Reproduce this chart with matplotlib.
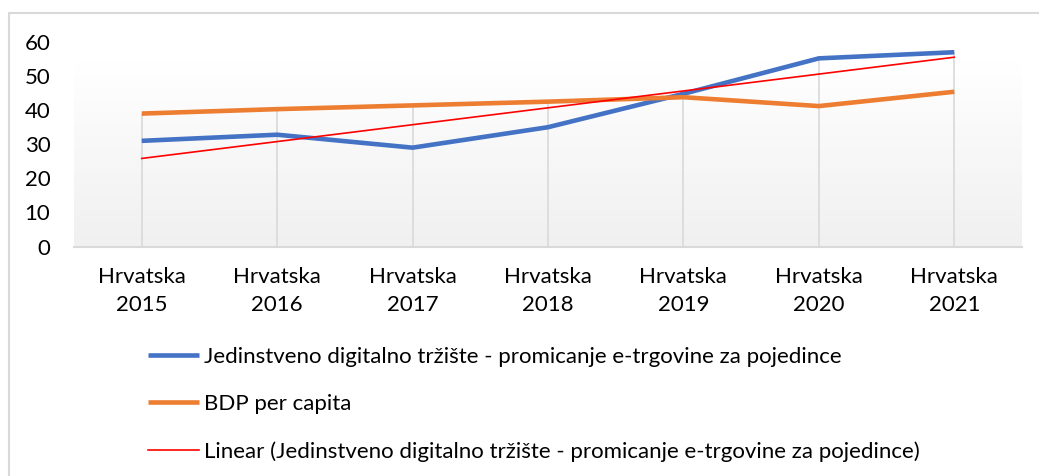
import numpy as np
import matplotlib
matplotlib.use("Agg")
import matplotlib.pyplot as plt
from matplotlib.patches import Rectangle
from matplotlib.colors import LinearSegmentedColormap

plt.rcParams['font.family'] = ['Lato', 'DejaVu Sans']

categories = ["Hrvatska\n2015", "Hrvatska\n2016", "Hrvatska\n2017", "Hrvatska\n2018",
              "Hrvatska\n2019", "Hrvatska\n2020", "Hrvatska\n2021"]
ecommerce = [31, 32.8, 29, 35, 44.8, 55.2, 57]
gdp = [39, 40.3, 41.4, 42.5, 43.8, 41.2, 45.4]
yticks = [0, 10, 20, 30, 40, 50, 60]

label_blue = "Jedinstveno digitalno tržište - promicanje e-trgovine za pojedince"
label_orange = "BDP per capita"
label_trend = "Linear (Jedinstveno digitalno tržište - promicanje e-trgovine za pojedince)"

fs = 16

fig = plt.figure(figsize=(10.39, 4.76), dpi=100)
fig.patch.set_facecolor('white')
fig.add_artist(Rectangle((9/1039, -0.1), 1.2, 1 - 13/476 + 0.1, transform=fig.transFigure,
                         fill=False, edgecolor='#d9d9d9', linewidth=1.5))

ax = fig.add_axes([74/1039, 1 - 246.5/476, (1022 - 74)/1039, (246.5 - 42)/476])
x = np.arange(len(categories))

cmap = LinearSegmentedColormap.from_list('g', ['#f0f0f0', '#ffffff'])
grad = np.linspace(0, 1, 256).reshape(-1, 1)
ax.imshow(grad, cmap=cmap, origin='lower', aspect='auto', extent=[0, 1, 0, 0.9],
          transform=ax.transAxes, zorder=0)

ax.vlines(x, 0, np.maximum(ecommerce, gdp), color='#d9d9d9', linewidth=1.2, zorder=1)

ax.plot(x, ecommerce, color='#4472C4', linewidth=3.3, label=label_blue, zorder=3,
        solid_capstyle='butt')
ax.plot(x, gdp, color='#ED7D31', linewidth=3.3, label=label_orange, zorder=3,
        solid_capstyle='butt')
coef = np.polyfit(x, ecommerce, 1)
ax.plot(x, np.polyval(coef, x), color='#FF0000', linewidth=1.2, label=label_trend, zorder=4)

ax.set_xlim(-0.5, len(categories) - 0.5)
ax.set_ylim(0, 60)
ax.set_yticks(yticks)
ax.set_xticks(x)
ax.set_xticklabels(categories, fontsize=fs, linespacing=1.5)
ax.tick_params(axis='y', length=0, labelsize=fs, pad=17)
ax.tick_params(axis='x', length=0, pad=15)
for s in ['top', 'right', 'left']:
    ax.spines[s].set_visible(False)
ax.spines['bottom'].set_color('#d9d9d9')
ax.spines['bottom'].set_linewidth(1.5)
ax.set_facecolor('none')

handles, labels = ax.get_legend_handles_labels()
fig.legend(handles, labels, loc='upper left', bbox_to_anchor=(148/1039, 1 - 347/476),
           frameon=False, fontsize=fs, handlelength=2.3, handletextpad=0.2,
           labelspacing=1.22, borderpad=0, borderaxespad=0)

fig.savefig('out.png', dpi=100)
